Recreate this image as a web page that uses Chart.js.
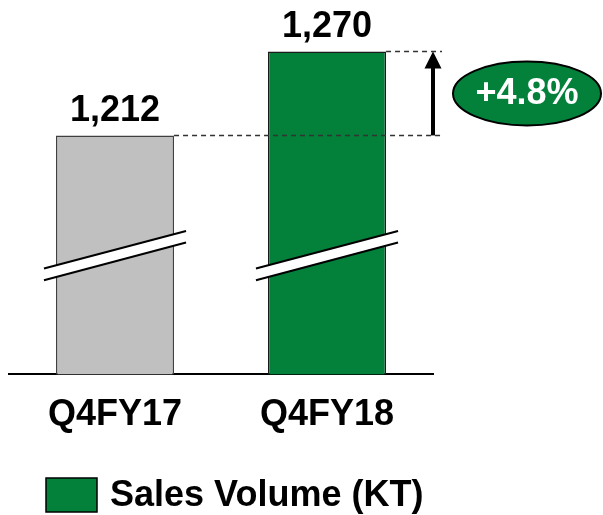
<!DOCTYPE html>
<html>
<head>
<meta charset="utf-8">
<script src="https://cdn.jsdelivr.net/npm/chart.js@4.4.1/dist/chart.umd.min.js"></script>
<style>
  html, body { margin: 0; padding: 0; background: #fff; }
  #wrap { width: 603px; height: 515px; }
</style>
</head>
<body>
<div id="wrap"><canvas id="salesChart"></canvas></div>
<script>
// data
const quarters = ['Q4FY17', 'Q4FY18'];
const salesVolume = [1212, 1270];
const seriesName = 'Sales Volume (KT)';

// broken value axis: bars start here, not at zero
const axisMin = 1047;
const axisMax = 1300;
const breakAt = 1129;

const barColors = ['#c0c0c0', '#03803a'];
const barBorders = ['#404040', '#1a1a1a'];
const FONT = '"Liberation Sans", Arial, sans-serif';

const fmt = v => v.toLocaleString('en-US');

// break marks, value labels, dashed guides, arrow and growth bubble
const decorations = {
  id: 'decorations',
  afterDatasetsDraw(chart) {
    const ctx = chart.ctx;
    const yScale = chart.scales.y;
    const bars = chart.getDatasetMeta(0).data;
    ctx.save();

    // break marks
    const yc = yScale.getPixelForValue(breakAt);
    bars.forEach(bar => {
      const half = bar.width / 2;
      const x0 = bar.x - half - 12, x1 = bar.x + half + 12;
      const dy = 18.8, gap = 5.8;
      ctx.fillStyle = '#fff';
      ctx.beginPath();
      ctx.moveTo(x0, yc + dy - gap);
      ctx.lineTo(x1, yc - dy - gap);
      ctx.lineTo(x1, yc - dy + gap);
      ctx.lineTo(x0, yc + dy + gap);
      ctx.closePath();
      ctx.fill();
      ctx.strokeStyle = '#000';
      ctx.lineWidth = 2;
      ctx.beginPath();
      ctx.moveTo(x0, yc + dy - gap);
      ctx.lineTo(x1, yc - dy - gap);
      ctx.moveTo(x0, yc + dy + gap);
      ctx.lineTo(x1, yc - dy + gap);
      ctx.stroke();
    });

    // value labels
    ctx.fillStyle = '#000';
    ctx.font = 'bold 36px ' + FONT;
    ctx.textAlign = 'center';
    ctx.textBaseline = 'alphabetic';
    bars.forEach((bar, i) => {
      ctx.fillText(fmt(salesVolume[i]), bar.x, bar.y - 14.5);
    });

    // dashed guides
    const xEnd = 442;
    ctx.strokeStyle = '#333';
    ctx.lineWidth = 1.5;
    ctx.setLineDash([5, 4]);
    bars.forEach(bar => {
      ctx.beginPath();
      ctx.moveTo(bar.x + bar.width / 2, bar.y);
      ctx.lineTo(xEnd, bar.y);
      ctx.stroke();
    });
    ctx.setLineDash([]);

    // arrow
    const ax = 433;
    const yLow = bars[0].y, yHigh = bars[1].y;
    ctx.fillStyle = '#000';
    ctx.fillRect(ax - 2, yHigh + 16, 4, yLow - yHigh - 16);
    ctx.beginPath();
    ctx.moveTo(ax, yHigh);
    ctx.lineTo(ax + 8.5, yHigh + 17);
    ctx.lineTo(ax - 8.5, yHigh + 17);
    ctx.closePath();
    ctx.fill();

    // growth bubble
    const cx = 527, cy = (yLow + yHigh) / 2;
    ctx.beginPath();
    ctx.ellipse(cx, cy, 74, 32, 0, 0, Math.PI * 2);
    ctx.fillStyle = barColors[1];
    ctx.fill();
    ctx.lineWidth = 2;
    ctx.strokeStyle = '#000';
    ctx.stroke();
    const growth = (salesVolume[1] - salesVolume[0]) / salesVolume[0] * 100;
    ctx.fillStyle = '#fff';
    ctx.textBaseline = 'middle';
    ctx.fillText('+' + growth.toFixed(1) + '%', cx, cy + 1);

    ctx.restore();
  },
  afterDraw(chart) {
    // legend
    const ctx = chart.ctx;
    ctx.save();
    ctx.fillStyle = barColors[1];
    ctx.fillRect(46, 478, 51, 34);
    ctx.strokeStyle = '#000';
    ctx.lineWidth = 1.5;
    ctx.strokeRect(46, 478, 51, 34);
    ctx.fillStyle = '#000';
    ctx.font = 'bold 36px ' + FONT;
    ctx.textAlign = 'left';
    ctx.textBaseline = 'middle';
    ctx.fillText(chart.data.datasets[0].label, 110, 496);
    ctx.restore();
  }
};

new Chart(document.getElementById('salesChart'), {
  type: 'bar',
  data: {
    labels: quarters,
    datasets: [{
      label: seriesName,
      data: salesVolume,
      backgroundColor: barColors,
      borderColor: barBorders,
      borderWidth: 1.5,
      categoryPercentage: 1,
      barPercentage: 0.557
    }]
  },
  options: {
    responsive: true,
    maintainAspectRatio: false,
    animation: false,
    layout: { padding: { left: 9, right: 170, top: 8, bottom: 58.5 } },
    plugins: {
      legend: { display: false },
      tooltip: { enabled: false }
    },
    scales: {
      x: {
        grid: { display: false, drawTicks: false },
        border: { display: true, color: '#000', width: 2 },
        ticks: {
          color: '#000',
          padding: 19.5,
          font: { family: FONT, size: 36, weight: 'bold' }
        }
      },
      y: {
        display: false,
        min: axisMin,
        max: axisMax
      }
    }
  },
  plugins: [decorations]
});
</script>
</body>
</html>
